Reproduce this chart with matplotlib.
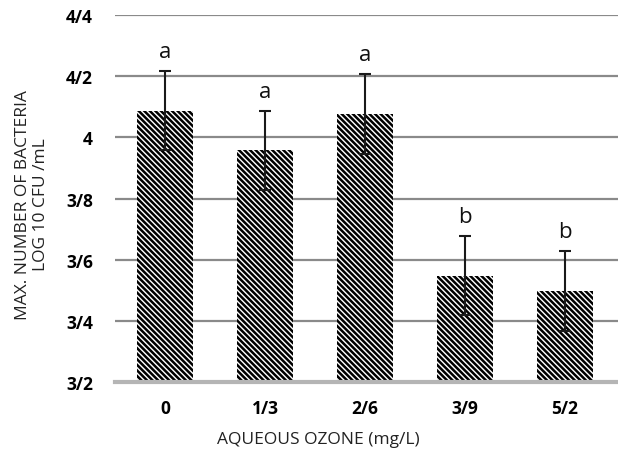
import matplotlib
matplotlib.use("Agg")
import matplotlib.pyplot as plt
import numpy as np

categories = ["0", "1/3", "2/6", "3/9", "5/2"]
values = [4.087, 3.957, 4.077, 3.548, 3.497]
errors = [0.13, 0.13, 0.13, 0.13, 0.13]
letters = ["a", "a", "a", "b", "b"]
yticks = [3.2, 3.4, 3.6, 3.8, 4.0, 4.2, 4.4]
ytick_labels = ["3/2", "3/4", "3/6", "3/8", "4", "4/2", "4/4"]

plt.rcParams['hatch.linewidth'] = 1.8
plt.rcParams['hatch.color'] = 'black'

fig = plt.figure(figsize=(6.18, 4.56), dpi=100)
ax = fig.add_axes([115/618, 73/456, 1 - 115/618, (383-16)/456])

x = np.arange(len(categories))
ax.set_ylim(3.2, 4.4)
ax.set_xlim(-0.5, 4.53)

for yv in yticks[1:]:
    ax.axhline(yv, color='#8a8a8a', lw=1.6, zorder=1)

bars = ax.bar(x, [v - 3.2 for v in values], bottom=3.2, width=0.56, color='white',
              edgecolor='black', hatch='\\\\\\\\\\\\', linewidth=0, zorder=2)
ax.errorbar(x, values, yerr=errors, fmt='none', ecolor='#1a1a1a', elinewidth=1.5,
            capsize=4, capthick=1.5, zorder=3)
for xi, v, e, l in zip(x, values, errors, letters):
    ax.text(xi, v + e + 0.03, l, ha='center', va='bottom', fontsize=16,
            family='Open Sans', color='#111111')

for s in ['top', 'right', 'left']:
    ax.spines[s].set_visible(False)
ax.spines['bottom'].set_color('#b5b5b5')
ax.spines['bottom'].set_linewidth(3)
ax.spines['bottom'].set_zorder(4)

ax.set_yticks(yticks)
ax.set_yticklabels(ytick_labels, fontsize=12.5, fontweight='bold', family='Open Sans')
ax.set_xticks(x)
ax.set_xticklabels(categories, fontsize=12.5, fontweight='bold', family='Open Sans')
ax.tick_params(axis='y', length=0, pad=16)
ax.tick_params(axis='x', length=0, pad=12)

fig.text(318/618, 1 - 440/456, "AQUEOUS OZONE (mg/L)", ha='center', va='center',
         fontsize=12.5, family='Open Sans', color='#222222')
fig.text(32/618, 1 - 205/456, "MAX. NUMBER OF BACTERIA\nLOG 10 CFU /mL", ha='center',
         va='center', rotation=90, fontsize=12.5, family='Open Sans', color='#222222',
         linespacing=1.15)

fig.savefig("out.png", dpi=100)
